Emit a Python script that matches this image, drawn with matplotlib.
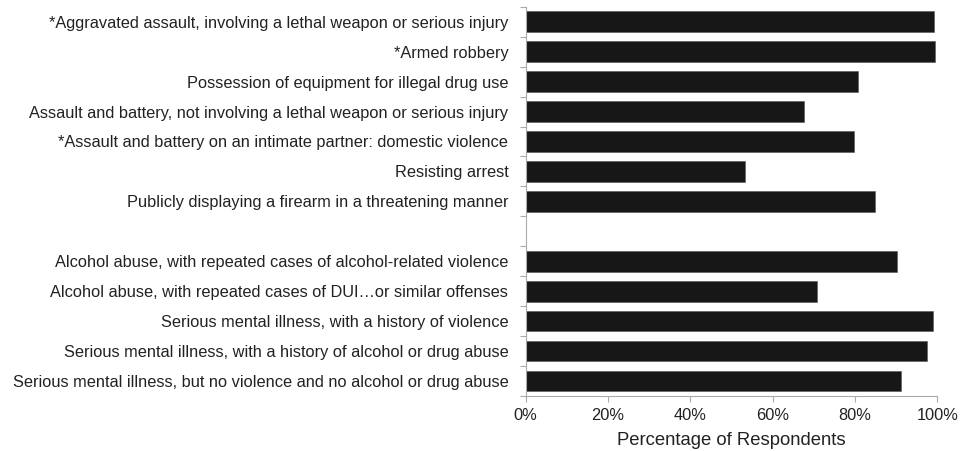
import matplotlib
matplotlib.use("Agg")
import matplotlib.pyplot as plt
import numpy as np

plt.rcParams['font.family'] = ['Liberation Sans', 'DejaVu Sans']

group1_labels = [
    "*Aggravated assault, involving a lethal weapon or serious injury",
    "*Armed robbery",
    "Possession of equipment for illegal drug use",
    "Assault and battery, not involving a lethal weapon or serious injury",
    "*Assault and battery on an intimate partner: domestic violence",
    "Resisting arrest",
    "Publicly displaying a firearm in a threatening manner",
]
group1_values = [99.2, 99.4, 80.8, 67.6, 79.8, 53.3, 84.9]

group2_labels = [
    "Alcohol abuse, with repeated cases of alcohol-related violence",
    "Alcohol abuse, with repeated cases of DUI\u2026or similar offenses",
    "Serious mental illness, with a history of violence",
    "Serious mental illness, with a history of alcohol or drug abuse",
    "Serious mental illness, but no violence and no alcohol or drug abuse",
]
group2_values = [90.1, 70.8, 98.9, 97.6, 91.2]

x_ticks = [0, 20, 40, 60, 80, 100]
x_label = "Percentage of Respondents"

labels = group1_labels + group2_labels
values = group1_values + group2_values
pos = list(range(len(group1_labels))) + [len(group1_labels) + 1 + i for i in range(len(group2_labels))]
n_slots = len(group1_labels) + 1 + len(group2_labels)

fig = plt.figure(figsize=(9.6, 4.51), dpi=100)
ax = fig.add_axes([0.5476, 0.122, 0.4288, 0.863])

ax.barh(pos, values, height=0.69, color="#171717", edgecolor="#555555", linewidth=0.4)

ax.set_xlim(0, 100)
ax.set_ylim(n_slots - 0.5, -0.5)

ax.set_yticks(pos)
ax.set_yticklabels(labels, fontsize=11.8, color="#222222")
ax.tick_params(axis='y', which='major', length=0, pad=12.5)
ax.set_yticks(np.arange(-0.5, n_slots, 1.0), minor=True)
ax.tick_params(axis='y', which='minor', length=4, width=0.8, color="#aaaaaa", direction='out')

ax.set_xticks(x_ticks)
ax.set_xticklabels([f"{t}%" for t in x_ticks], fontsize=11.8, color="#222222")
ax.tick_params(axis='x', which='major', length=4, width=0.8, color="#aaaaaa", pad=4.5)
ax.set_xlabel(x_label, fontsize=13.3, color="#222222", labelpad=6.5)

for s in ['top', 'right']:
    ax.spines[s].set_visible(False)
for s in ['left', 'bottom']:
    ax.spines[s].set_color("#aaaaaa")
    ax.spines[s].set_linewidth(0.8)

fig.savefig("out.png", dpi=100)
